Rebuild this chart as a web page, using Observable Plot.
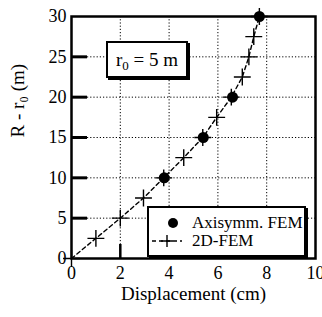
<!DOCTYPE html>
<html><head><meta charset="utf-8">
<script src="https://cdn.jsdelivr.net/npm/d3@7"></script>
<script src="https://cdn.jsdelivr.net/npm/@observablehq/plot@0.6"></script>
</head><body style="margin:0;background:#fff">
<div id="chart" style="position:relative;width:322px;height:317px"></div>
<script>
// Axisymmetric FEM results (displacement cm, R - r0 m)
const axiDisp = [3.8, 5.4, 6.6, 7.7];
const axiR = [10, 15, 20, 30];
// 2D-FEM results
const femDisp = [0, 1.0, 2.0, 2.95, 3.78, 4.6, 5.38, 5.95, 6.55, 7.0, 7.27, 7.47, 7.7];
const femR = [0, 2.5, 5, 7.5, 10, 12.5, 15, 17.5, 20, 22.5, 25, 27.5, 30];
const xTicks = [0, 2, 4, 6, 8, 10];
const yTicks = [0, 5, 10, 15, 20, 25, 30];
const xLabel = "Displacement (cm)";
const yLabel = "R - r\u2080 (m)";
const legendLabels = ["Axisymm. FEM", "2D-FEM"];

const serif = "Liberation Serif";
const axi = axiDisp.map((d, i) => ({x: d, y: axiR[i]}));
const fem = femDisp.map((d, i) => ({x: d, y: femR[i]}));
const innerY = yTicks.slice(1, -1);

const chart = Plot.plot({
  width: 322, height: 317,
  marginLeft: 71, marginRight: 7, marginTop: 16, marginBottom: 59,
  style: {fontFamily: serif, background: "#fff", color: "#000", overflow: "visible"},
  x: {domain: [0, 10]},
  y: {domain: [0, 30]},
  marks: [
    Plot.gridX(xTicks.slice(1, -1), {stroke: "#000", strokeOpacity: 1, strokeWidth: 1, strokeDasharray: "1.2,2"}),
    Plot.gridY(innerY, {stroke: "#000", strokeOpacity: 1, strokeWidth: 1, strokeDasharray: "1.2,2"}),
    Plot.tickY(innerY, {y: d => d, stroke: "#000", strokeWidth: 3, insetRight: 228}),
    Plot.tickX([xTicks[1]], {x: d => d, stroke: "#000", strokeWidth: 2.5, insetTop: 228}),
    Plot.axisX(xTicks, {tickSize: 0, tickPadding: 8, label: null, fontSize: 18, fontFamily: serif}),
    Plot.axisY(yTicks, {tickSize: 0, tickPadding: 5, label: null, fontSize: 18, fontFamily: serif}),
    Plot.frame({stroke: "#000", strokeWidth: 2.5}),
    Plot.line(fem, {x: "x", y: "y", stroke: "#000", strokeWidth: 1.4, strokeDasharray: "4,3"}),
    Plot.dot(fem, {x: "x", y: "y", symbol: "plus", r: 5.5, stroke: "#000", strokeWidth: 1.4}),
    Plot.dot(axi, {x: "x", y: "y", r: 5.5, fill: "#000", stroke: "none"}),
    Plot.text([xLabel], {frameAnchor: "bottom", dy: 41, fontSize: 19, fontFamily: serif}),
    Plot.text([yLabel], {frameAnchor: "left", dx: -54, rotate: -90, fontSize: 19, fontFamily: serif})
  ]
});
const holder = document.getElementById("chart");
holder.appendChild(chart);

function box(left, top, w, h, bw) {
  const b = document.createElement("div");
  Object.assign(b.style, {position: "absolute", left: left + "px", top: top + "px", width: w + "px", height: h + "px",
    background: "#fff", border: bw + "px solid #000", boxShadow: "2px 2px 0 #000", boxSizing: "border-box",
    fontFamily: `"${serif}"`});
  return b;
}
// annotation box
const ann = box(106, 41, 82, 37, 2);
Object.assign(ann.style, {fontSize: "19px", lineHeight: "33px", textAlign: "center"});
ann.innerHTML = "r<sub style='font-size:13px;vertical-align:-4px;line-height:0'>0</sub> = 5 m";
holder.appendChild(ann);

// legend box
const leg = box(147, 206, 159, 51, 2.5);
leg.style.fontSize = "17px";
leg.innerHTML = `
<div style="position:absolute;left:3px;top:6px;height:18px;display:flex;align-items:center">
<svg width="36" height="18"><circle cx="21" cy="9" r="5" fill="#000"/></svg><span style="margin-left:4px">${legendLabels[0]}</span></div>
<div style="position:absolute;left:3px;top:24px;height:18px;display:flex;align-items:center">
<svg width="36" height="18"><line x1="0" y1="9" x2="30" y2="9" stroke="#000" stroke-width="1.4" stroke-dasharray="4,3"/><path d="M15,3V15M9,9H21" stroke="#000" stroke-width="1.4"/></svg><span style="margin-left:4px">${legendLabels[1]}</span></div>`;
holder.appendChild(leg);
</script>
</body></html>
